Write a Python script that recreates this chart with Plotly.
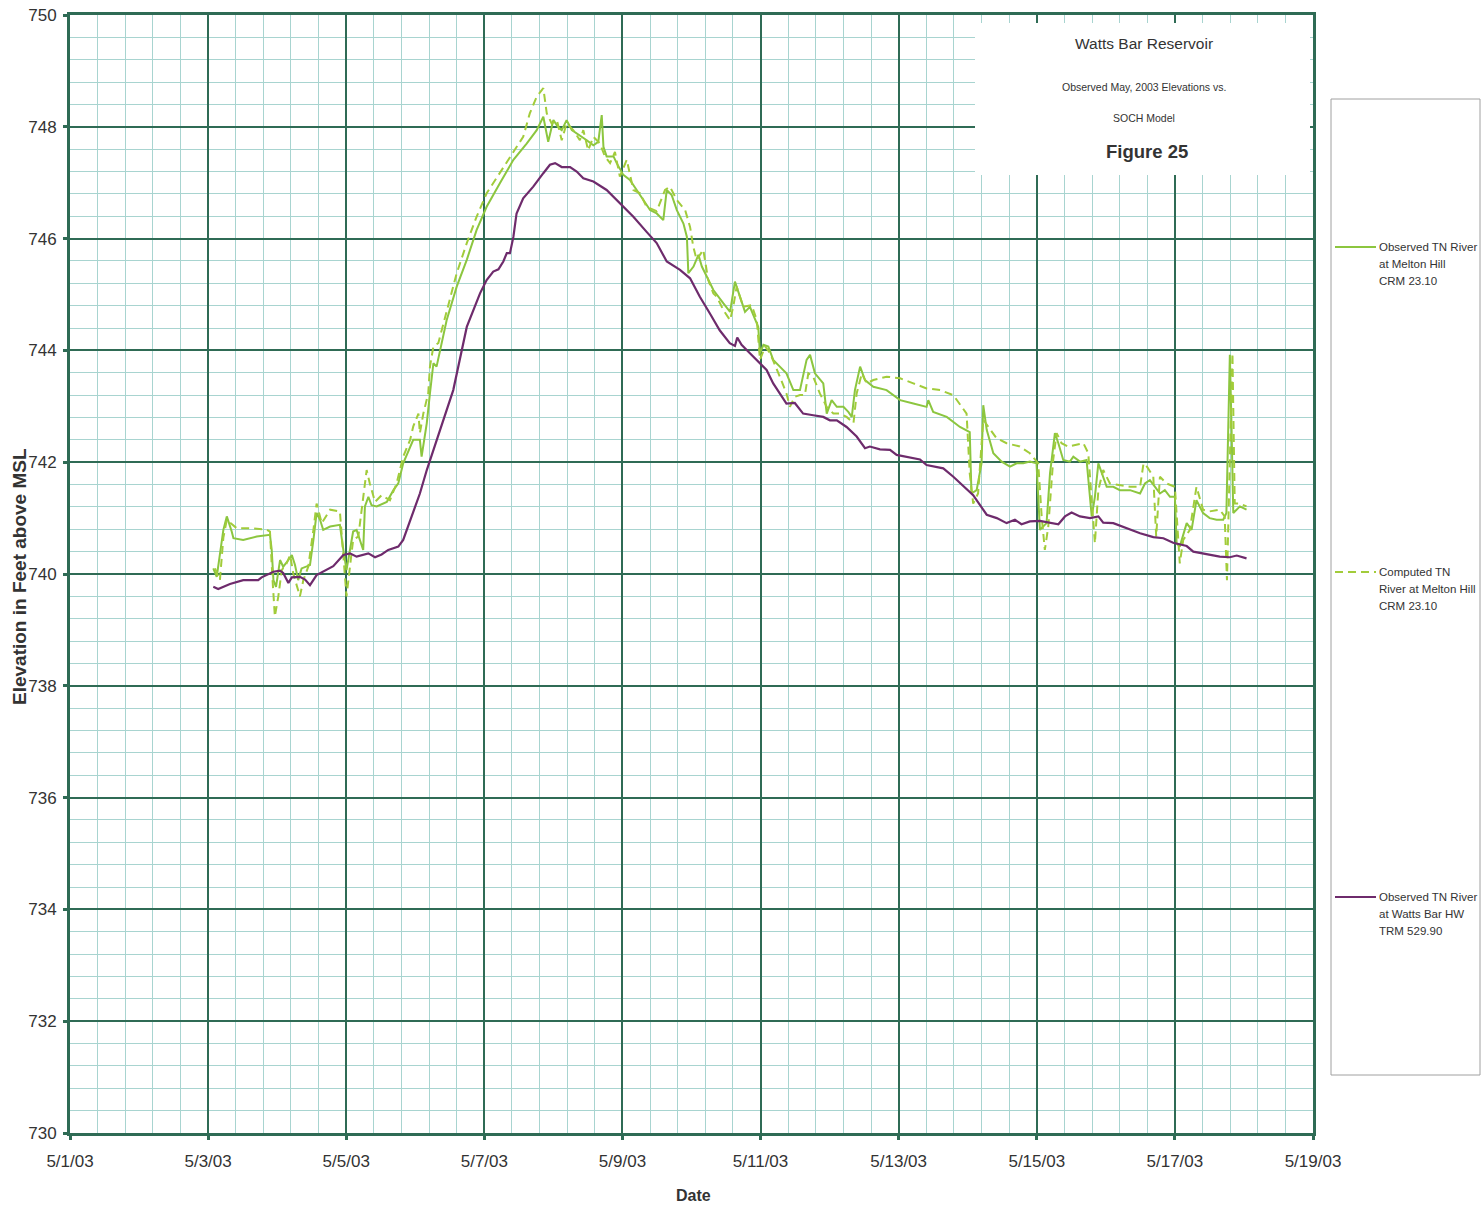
import pandas as pd
import plotly.graph_objects as go

# ---------------- data (hours after 2003-05-03 00:00, elevation ft) ----------------
wb_hours = [1.8, 3.5, 7.6, 12.2, 17.4, 18.6, 22.7, 25.0, 26.1, 27.9, 29.1, 31.9, 33.7, 35.4, 37.7,
            40.0, 43.5, 47.0, 49.3, 51.6, 53.9, 55.7, 58.0, 60.3, 62.6, 64.4, 66.1, 67.8, 70.2,
            73.6, 76.0, 80.6, 85.2, 89.9, 94.5, 96.8, 99.1, 100.9, 102.6, 103.8, 104.9, 106.1,
            107.2, 109.5, 113.0, 116.5, 118.8, 120.6, 122.9, 125.8, 128.1, 130.4, 133.9, 138.5,
            143.1, 147.8, 152.4, 155.9, 159.4, 164.0, 167.5, 170.9, 174.4, 177.8, 181.3, 183.1,
            183.9, 185.4, 188.3, 191.8, 194.1, 196.4, 198.7, 201.0, 203.9, 206.8, 210.3, 213.8,
            216.1, 218.5, 221.9, 225.4, 228.3, 230.0, 233.5, 237.0, 239.3, 242.8, 247.4, 249.7,
            252.0, 255.5, 259.0, 265.9, 270.6, 274.1, 277.5, 280.4, 282.7, 285.6, 289.1, 292.6,
            295.5, 297.8, 300.1, 303.0, 306.5, 309.4, 311.1, 314.6, 319.3, 323.9, 328.5, 332.0,
            335.4, 340.1, 342.4, 347.0, 351.6, 355.1, 357.5, 360.9]
wb_elev = [739.77, 739.73, 739.82, 739.89, 739.89, 739.94, 740.04, 740.06, 740.02, 739.84, 739.94,
           739.95, 739.90, 739.80, 739.98, 740.04, 740.14, 740.34, 740.37, 740.31, 740.34, 740.37,
           740.30, 740.35, 740.43, 740.46, 740.49, 740.61, 740.97, 741.44, 741.86, 742.58, 743.29,
           744.42, 745.02, 745.26, 745.41, 745.45, 745.59, 745.74, 745.74, 746.03, 746.45, 746.72,
           746.93, 747.17, 747.32, 747.35, 747.28, 747.28, 747.20, 747.08, 747.02, 746.87, 746.63,
           746.39, 746.12, 745.92, 745.59, 745.44, 745.29, 744.96, 744.66, 744.36, 744.13, 744.08,
           744.23, 744.10, 743.95, 743.77, 743.65, 743.41, 743.23, 743.05, 743.06, 742.87, 742.84,
           742.81, 742.75, 742.75, 742.63, 742.46, 742.25, 742.28, 742.23, 742.22, 742.13, 742.09,
           742.05, 741.95, 741.93, 741.89, 741.74, 741.41, 741.06, 741.00, 740.91, 740.97, 740.89,
           740.94, 740.95, 740.91, 740.89, 741.03, 741.10, 741.03, 741.00, 741.03, 740.92, 740.91,
           740.82, 740.73, 740.66, 740.64, 740.56, 740.50, 740.40, 740.36, 740.31, 740.30, 740.33,
           740.28]

obs_hours = [1.8, 3.0, 5.3, 6.5, 8.2, 8.8, 12.2, 16.9, 21.5, 22.1, 22.7, 23.6, 25.0, 26.1, 27.9,
             29.1, 30.2, 31.3, 32.5, 33.7, 35.4, 36.6, 37.7, 38.9, 40.0, 42.4, 45.8, 47.0, 48.1,
             49.3, 50.4, 51.6, 53.9, 54.5, 55.7, 56.8, 58.6, 62.1, 64.4, 66.1, 67.8, 71.3, 73.6,
             74.2, 76.0, 77.1, 78.3, 79.4, 80.6, 82.9, 86.4, 89.9, 93.3, 96.8, 101.4, 106.1, 110.7,
             114.2, 116.5, 118.2, 120.0, 121.7, 122.9, 124.6, 126.4, 129.2, 131.6, 133.9, 135.6,
             136.8, 137.4, 138.5, 140.9, 142.0, 144.3, 146.6, 149.0, 151.3, 153.6, 155.9, 158.2,
             159.4, 161.1, 162.9, 165.2, 166.4, 166.9, 168.7, 170.4, 171.6, 173.3, 175.6, 179.1,
             181.4, 183.1, 184.9, 186.6, 188.3, 190.1, 191.2, 191.8, 193.0, 194.7, 196.4, 198.7,
             201.0, 203.4, 205.7, 208.0, 209.2, 210.9, 213.8, 215.0, 216.7, 218.5, 220.8, 222.5,
             223.7, 224.8, 226.6, 228.3, 231.2, 235.8, 240.5, 245.1, 249.7, 250.3, 252.0, 256.7,
             261.3, 264.7, 265.3, 267.1, 268.8, 269.4, 270.6, 272.9, 275.8, 278.7, 281.0, 283.3,
             285.6, 287.9, 289.1, 290.2, 291.4, 292.6, 294.3, 295.5, 297.2, 299.5, 300.7, 303.0,
             305.3, 307.1, 308.2, 309.4, 311.1, 312.3, 314.6, 316.9, 320.4, 323.9, 325.6, 327.3,
             329.1, 330.8, 332.5, 334.3, 336.0, 336.6, 337.7, 340.1, 341.8, 343.5, 345.8, 348.1,
             350.5, 352.8, 353.9, 355.1, 355.7, 356.3, 358.6, 360.9]
obs_elev = [740.10, 739.95, 740.79, 741.03, 740.76, 740.64, 740.61, 740.67, 740.70, 740.43, 739.89,
            739.77, 740.25, 740.13, 740.25, 740.34, 740.16, 739.89, 740.10, 740.13, 740.16, 740.61,
            741.09, 740.97, 740.79, 740.85, 740.88, 740.43, 740.07, 740.43, 740.76, 740.79, 740.43,
            741.21, 741.38, 741.23, 741.21, 741.29, 741.50, 741.62, 741.98, 742.40, 742.40, 742.10,
            742.70, 743.23, 743.77, 743.71, 744.01, 744.54, 745.14, 745.62, 746.15, 746.57, 746.99,
            747.41, 747.70, 747.94, 748.18, 747.73, 748.12, 747.99, 747.94, 748.12, 747.94, 747.85,
            747.76, 747.67, 747.73, 748.21, 747.64, 747.47, 747.47, 747.35, 747.14, 747.05, 746.87,
            746.69, 746.51, 746.45, 746.33, 746.87, 746.78, 746.51, 746.27, 746.03, 745.38, 745.50,
            745.71, 745.50, 745.32, 745.08, 744.84, 744.69, 745.23, 744.96, 744.69, 744.78, 744.54,
            744.42, 743.95, 744.10, 744.07, 743.83, 743.71, 743.59, 743.29, 743.29, 743.83, 743.92,
            743.59, 743.41, 742.87, 743.11, 742.99, 742.99, 742.90, 742.81, 743.29, 743.71, 743.47,
            743.35, 743.29, 743.11, 743.05, 742.99, 743.11, 742.90, 742.81, 742.63, 742.54, 741.44,
            741.50, 741.98, 743.02, 742.58, 742.16, 742.01, 741.92, 741.98, 741.98, 742.01, 741.98,
            740.79, 740.85, 740.91, 741.80, 742.52, 742.34, 742.04, 742.01, 742.10, 742.01, 742.04,
            741.03, 741.38, 741.98, 741.74, 741.56, 741.56, 741.50, 741.50, 741.44, 741.62, 741.68,
            741.56, 741.44, 741.50, 741.38, 741.38, 740.55, 740.49, 740.91, 740.79, 741.32, 741.09,
            741.00, 740.97, 740.97, 741.09, 743.92, 742.58, 741.09, 741.21, 741.15]

cmp_hours = [2.4, 4.1, 5.3, 6.5, 9.9, 14.6, 20.4, 21.5, 22.4, 23.2, 24.4, 25.6, 27.3, 28.5, 29.6,
             30.8, 31.9, 33.1, 34.8, 36.6, 37.7, 39.5, 42.4, 45.8, 47.0, 48.1, 49.3, 50.4, 52.2,
             53.9, 55.1, 56.2, 58.0, 60.3, 63.2, 65.5, 67.8, 70.2, 71.3, 73.1, 73.6, 74.8, 76.5,
             77.1, 78.3, 80.0, 82.9, 86.4, 89.9, 93.3, 96.8, 101.4, 106.1, 109.5, 111.8, 114.2,
             116.5, 117.7, 119.4, 121.2, 122.9, 124.6, 126.9, 129.2, 130.4, 132.1, 133.9, 136.2,
             137.9, 139.7, 141.4, 143.1, 145.5, 147.8, 150.1, 152.4, 155.9, 158.8, 160.5, 162.9,
             165.8, 167.5, 168.6, 169.8, 172.1, 173.8, 175.6, 176.8, 179.1, 181.4, 182.5, 183.7,
             186.0, 188.9, 190.7, 191.8, 193.6, 195.3, 198.7, 201.0, 202.2, 203.9, 205.7, 207.4,
             208.6, 210.3, 212.6, 215.0, 217.3, 219.6, 221.9, 224.3, 225.4, 227.2, 228.9, 231.2,
             235.8, 240.5, 245.1, 249.7, 254.4, 259.0, 263.6, 264.7, 265.9, 267.6, 269.4, 271.1,
             274.0, 277.5, 282.1, 285.6, 288.5, 289.7, 290.8, 292.0, 293.7, 294.9, 296.6, 298.9,
             301.8, 304.2, 305.9, 307.1, 308.2, 309.4, 311.1, 313.4, 316.9, 320.4, 323.9, 325.1,
             326.3, 328.5, 329.5, 330.8, 333.1, 336.0, 337.7, 338.9, 341.2, 343.5, 345.8, 348.1,
             351.6, 353.3, 354.1, 355.3, 356.0, 356.8, 358.6, 360.9]
cmp_elev = [740.10, 739.89, 740.65, 740.97, 740.82, 740.82, 740.79, 740.76, 739.89, 739.24, 739.60,
            740.07, 740.19, 740.34, 740.01, 739.77, 739.60, 739.89, 740.13, 740.79, 741.26, 740.91,
            741.15, 741.12, 740.31, 739.60, 740.13, 740.61, 740.67, 741.32, 741.86, 741.62, 741.29,
            741.41, 741.32, 741.62, 742.10, 742.40, 742.64, 742.87, 742.52, 742.87, 743.23, 743.71,
            744.07, 744.13, 744.72, 745.38, 745.92, 746.39, 746.81, 747.17, 747.53, 747.82, 748.24,
            748.54, 748.69, 748.24, 748.06, 748.12, 747.76, 748.06, 747.94, 747.76, 747.94, 747.58,
            747.82, 747.70, 747.47, 747.35, 747.55, 747.11, 747.41, 746.87, 746.81, 746.57, 746.49,
            746.87, 746.93, 746.69, 746.51, 746.21, 745.86, 745.62, 745.80, 745.26, 745.02, 744.96,
            744.72, 744.54, 744.78, 745.14, 744.78, 744.81, 744.54, 743.83, 744.07, 743.95, 743.53,
            743.23, 742.99, 743.17, 743.20, 743.20, 743.59, 743.53, 743.23, 742.99, 742.87, 742.87,
            742.81, 742.70, 743.23, 743.59, 743.41, 743.47, 743.53, 743.50, 743.41, 743.32, 743.29,
            743.20, 742.87, 741.80, 741.26, 741.44, 742.76, 742.64, 742.43, 742.34, 742.28, 742.16,
            741.98, 741.03, 740.43, 740.85, 742.04, 742.52, 742.34, 742.28, 742.31, 742.34, 742.16,
            741.26, 740.55, 741.50, 741.86, 741.62, 741.59, 741.56, 741.56, 741.98, 741.92, 741.74,
            740.67, 741.74, 741.62, 741.56, 740.19, 740.61, 740.79, 741.56, 741.15, 741.12, 741.15,
            741.03, 739.89, 742.58, 743.95, 741.26, 741.26, 741.21]

series_names = ["Observed TN River at Melton Hill CRM 23.10",
                "Computed TN River at Melton Hill CRM 23.10",
                "Observed TN River at Watts Bar HW TRM 529.90"]
legend_lines = [["Observed TN River", "at Melton Hill", "CRM 23.10"],
                ["Computed TN", "River at Melton Hill", "CRM 23.10"],
                ["Observed TN River", "at Watts Bar HW", "TRM 529.90"]]
y_ticks = [730, 732, 734, 736, 738, 740, 742, 744, 746, 748, 750]
title_lines = ["Watts Bar Reservoir", "Observed May, 2003 Elevations vs.", "SOCH Model", "Figure 25"]

base = pd.Timestamp("2003-05-03")
def to_time(h):
    return base + pd.to_timedelta(h, unit="h")

C_OBS = "#8cc63f"
C_CMP = "#a2cc3a"
C_WB = "#6e2b6c"
MAJOR = "#2f6b55"
MINOR = "#a8d4d0"
FONT = "Liberation Sans, Arial, sans-serif"
TXT = "#333333"

fig = go.Figure()
fig.add_trace(go.Scatter(x=to_time(obs_hours), y=obs_elev, mode="lines", name=series_names[0],
                         line=dict(color=C_OBS, width=2)))
fig.add_trace(go.Scatter(x=to_time(cmp_hours), y=cmp_elev, mode="lines", name=series_names[1],
                         line=dict(color=C_CMP, width=2, dash="8px,5px")))
fig.add_trace(go.Scatter(x=to_time(wb_hours), y=wb_elev, mode="lines", name=series_names[2],
                         line=dict(color=C_WB, width=2.2)))

L, R, T, B = 70, 169, 15, 73
W, H = 1482, 1206
PW, PH = W - L - R, H - T - B
def PX(x):
    return (x - L) / PW
def PY(y):
    return (H - B - y) / PH

shapes = []
annotations = []
# title box (white, covering the grid)
shapes.append(dict(type="rect", xref="paper", yref="paper", x0=PX(975), x1=PX(1310),
                   y0=PY(175), y1=PY(23), fillcolor="white", line=dict(width=0), layer="above"))
annotations += [
    dict(text=title_lines[0], x=PX(1144), y=PY(43), font=dict(size=15.5, family=FONT, color=TXT)),
    dict(text=title_lines[1], x=PX(1144), y=PY(87), font=dict(size=10.5, family=FONT, color=TXT)),
    dict(text=title_lines[2], x=PX(1144), y=PY(118), font=dict(size=10.5, family=FONT, color=TXT)),
    dict(text="<b>" + title_lines[3] + "</b>", x=PX(1147), y=PY(152), font=dict(size=18.5, family=FONT, color=TXT)),
]
for a in annotations:
    a.update(xref="paper", yref="paper", showarrow=False, xanchor="center", yanchor="middle")

# legend box
shapes.append(dict(type="rect", xref="paper", yref="paper", x0=PX(1331), x1=PX(1480),
                   y0=PY(1075), y1=PY(99), line=dict(color="#a0a0a0", width=1), fillcolor="white"))
leg_y = [247, 572, 897]
leg_style = [dict(color=C_OBS, width=2), dict(color=C_CMP, width=2, dash="8px,5px"),
             dict(color=C_WB, width=2.2)]
for i in range(3):
    shapes.append(dict(type="line", xref="paper", yref="paper", x0=PX(1335), x1=PX(1376),
                       y0=PY(leg_y[i]), y1=PY(leg_y[i]), line=leg_style[i]))
    for j, t in enumerate(legend_lines[i]):
        annotations.append(dict(text=t, xref="paper", yref="paper", x=PX(1377), y=PY(leg_y[i] + 17 * j),
                                xanchor="left", yanchor="middle", showarrow=False,
                                font=dict(size=11.5, family=FONT, color=TXT)))

# axis titles as annotations (precise placement)
annotations.append(dict(text="<b>Date</b>", xref="paper", yref="paper", x=PX(693), y=PY(1195),
                        xanchor="center", yanchor="middle", showarrow=False,
                        font=dict(size=16, family=FONT, color=TXT)))
annotations.append(dict(text="<b>Elevation in Feet above MSL</b>", xref="paper", yref="paper",
                        x=PX(19), y=PY(577), xanchor="center", yanchor="middle", showarrow=False,
                        textangle=-90, font=dict(size=19, family=FONT, color=TXT)))

axis_common = dict(showline=True, linecolor=MAJOR, linewidth=3, mirror=True,
                   showgrid=True, gridcolor=MAJOR, gridwidth=2, zeroline=False,
                   ticks="outside", ticklen=4, tickwidth=3, tickcolor=MAJOR, automargin=False,
                   tickfont=dict(size=17, family=FONT, color=TXT))

fig.update_layout(
    width=W, height=H, margin=dict(l=L, r=R, t=T, b=B, autoexpand=False),
    paper_bgcolor="white", plot_bgcolor="white", showlegend=False,
    shapes=shapes, annotations=annotations,
    xaxis=dict(**axis_common, type="date",
               range=["2003-05-01", "2003-05-19"], tick0="2003-05-01", dtick=2 * 86400000,
               tickformat="%-m/%-d/%y", ticklabelstandoff=7,
               minor=dict(tick0="2003-05-01", dtick=0.4 * 86400000, showgrid=True,
                          gridcolor=MINOR, gridwidth=1, ticks="")),
    yaxis=dict(**axis_common, range=[730, 750], tickvals=y_ticks, ticklabelstandoff=3,
               minor=dict(tick0=730, dtick=0.4, showgrid=True, gridcolor=MINOR, gridwidth=1, ticks="")),
)

fig.write_html("out.html")
